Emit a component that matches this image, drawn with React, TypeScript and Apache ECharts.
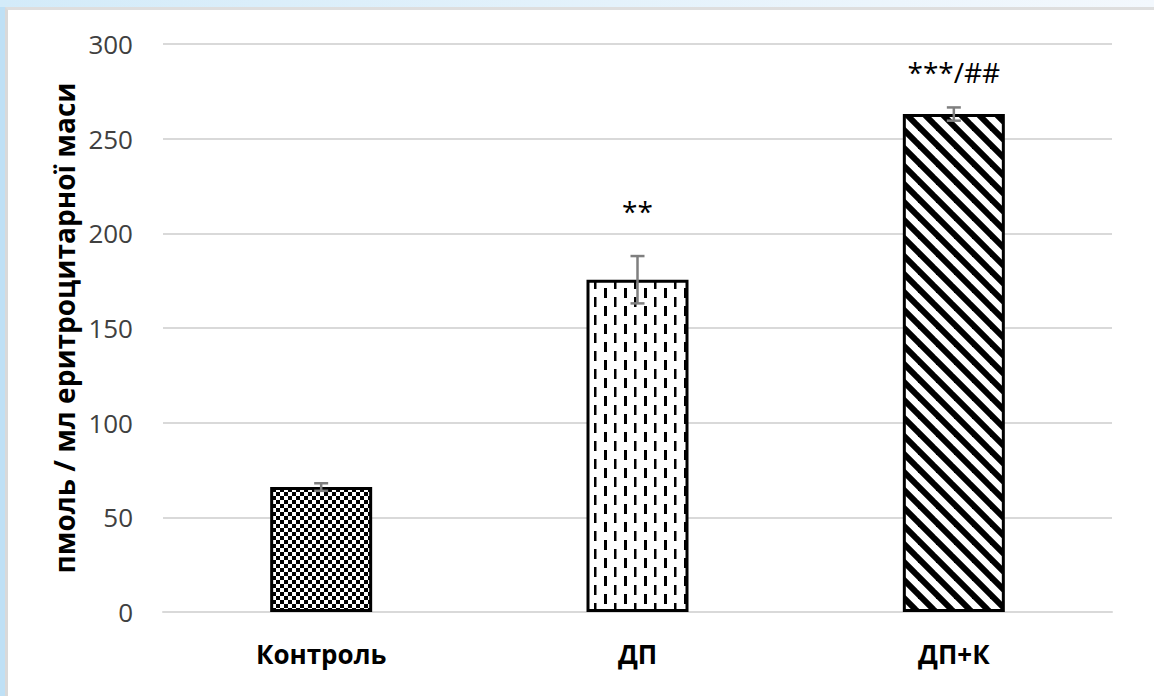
import React, { useEffect, useRef } from "react";
import * as echarts from "echarts";

const categories = ["Контроль", "ДП", "ДП+К"];
const means = [66, 175.5, 263];
const errors = [2, 12.5, 3.5];
const markTexts = ["**", "***/##"];
const markCategoryIndex = [1, 2];
const markValues = [212, 285];
const yMin = 0;
const yMax = 300;
const yInterval = 50;
const yAxisTitle = "пмоль / мл еритроцитарної маси";

function makeCanvas(w: number, h: number, draw: (ctx: CanvasRenderingContext2D) => void) {
  const c = document.createElement("canvas");
  c.width = w;
  c.height = h;
  const ctx = c.getContext("2d")!;
  ctx.fillStyle = "#ffffff";
  ctx.fillRect(0, 0, w, h);
  draw(ctx);
  return c;
}

function checkerPattern() {
  return makeCanvas(8, 8, (ctx) => {
    ctx.fillStyle = "#000";
    ctx.fillRect(0, 0, 4, 4);
    ctx.fillRect(4, 4, 4, 4);
  });
}

function dashPattern() {
  return makeCanvas(20, 18, (ctx) => {
    ctx.fillStyle = "#000";
    ctx.fillRect(4, 0, 3, 10);
    ctx.fillRect(14, 9, 2.5, 9);
    ctx.fillRect(14, 0, 2.5, 1);
  });
}

function diagPattern() {
  const S = 18;
  return makeCanvas(S, S, (ctx) => {
    ctx.strokeStyle = "#000";
    ctx.lineWidth = 6;
    for (const dx of [-S, 0, S]) {
      ctx.beginPath();
      ctx.moveTo(dx - 4, -4);
      ctx.lineTo(dx + S + 4, S + 4);
      ctx.stroke();
    }
  });
}

export default function App() {
  const ref = useRef<HTMLDivElement>(null);

  useEffect(() => {
    if (!ref.current) return;
    const chart = echarts.init(ref.current, null, { renderer: "svg" });
    const patterns = [checkerPattern(), dashPattern(), diagPattern()];

    const barData = means.map((m, i) => ({
      value: m,
      itemStyle: {
        color: { image: patterns[i], repeat: "repeat" } as any,
        borderColor: "#000",
        borderWidth: 3,
      },
    }));

    const errData = means.map((m, i) => [i, m - errors[i], m + errors[i]]);
    const markData = markValues.map((v, i) => [markCategoryIndex[i], v]);

    chart.setOption({
      animation: false,
      backgroundColor: "transparent",
      grid: { left: 163, right: 42, top: 44, bottom: 84 },
      xAxis: {
        type: "category",
        data: categories,
        axisLine: { show: true, lineStyle: { color: "#d9d9d9", width: 2 } },
        axisTick: { show: false },
        axisLabel: {
          color: "#000",
          fontFamily: "Open Sans",
          fontWeight: "bold",
          fontSize: 26,
          margin: 29,
        },
      },
      yAxis: {
        type: "value",
        min: yMin,
        max: yMax,
        interval: yInterval,
        name: yAxisTitle,
        nameLocation: "middle",
        nameGap: 80,
        nameTextStyle: {
          color: "#000",
          fontFamily: "Open Sans",
          fontWeight: "bold",
          fontSize: 28,
        },
        axisLine: { show: false },
        axisTick: { show: false },
        splitLine: { lineStyle: { color: "#d9d9d9", width: 2 } },
        axisLabel: {
          color: "#404040",
          fontFamily: "Open Sans",
          fontSize: 26,
          margin: 30,
        },
      },
      series: [
        {
          type: "bar",
          data: barData,
          barWidth: 102,
        },
        {
          type: "custom",
          data: errData,
          z: 5,
          renderItem: (params: any, api: any) => {
            const x = api.value(0);
            const lo = api.coord([x, api.value(1)]);
            const hi = api.coord([x, api.value(2)]);
            const hw = 7;
            const style = { stroke: "#7f7f7f", lineWidth: 2.5 };
            return {
              type: "group",
              children: [
                { type: "line", shape: { x1: hi[0], y1: hi[1], x2: lo[0], y2: lo[1] }, style },
                { type: "line", shape: { x1: hi[0] - hw, y1: hi[1], x2: hi[0] + hw, y2: hi[1] }, style },
                { type: "line", shape: { x1: lo[0] - hw, y1: lo[1], x2: lo[0] + hw, y2: lo[1] }, style },
              ],
            };
          },
        },
        {
          type: "custom",
          data: markData,
          z: 6,
          renderItem: (params: any, api: any) => {
            const p = api.coord([api.value(0), api.value(1)]);
            return {
              type: "text",
              x: p[0],
              y: p[1],
              style: {
                text: markTexts[params.dataIndex],
                fill: "#000",
                font: "28px 'Open Sans'",
                align: "center",
                verticalAlign: "middle",
              },
            };
          },
        },
      ],
    });

    return () => chart.dispose();
  }, []);

  return (
    <div style={{ position: "absolute", left: 0, top: 0, width: 1154, height: 696, background: "#bfe0f5", overflow: "hidden" }}>
      <div style={{ position: "absolute", left: 0, top: 0, width: 1154, height: 7, background: "linear-gradient(to right, #d3ebf9, #f3f8fd)" }} />
      <div style={{ position: "absolute", left: 5, top: 7, width: 1149, height: 689, background: "#fff", borderLeft: "3px solid #d9d9d9", borderTop: "3px solid #dedede", boxSizing: "border-box" }} />
      <div ref={ref} style={{ position: "absolute", left: 0, top: 0, width: 1154, height: 696 }} />
    </div>
  );
}
